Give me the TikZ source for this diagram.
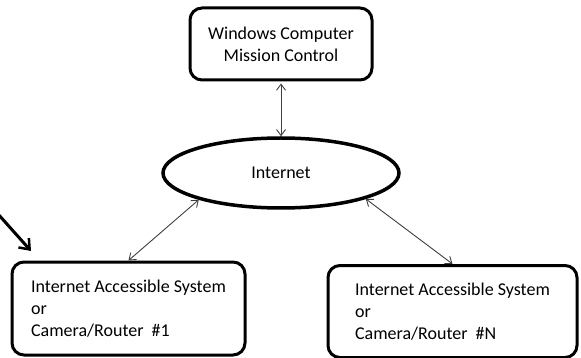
\documentclass[tikz,border=0pt]{standalone}
\usepackage{fontspec}
\setmainfont{Carlito}
\usetikzlibrary{arrows.meta,shapes.geometric}

\begin{document}
\begin{tikzpicture}[>={Straight Barb[length=6pt,width=9pt]},x=1pt,y=-1pt]

% ----------------------------
% Styles
% ----------------------------
\tikzset{
	sysbox/.style={draw=black,line width=3pt,rounded corners=12pt,align=left,
		font=\fontsize{18pt}{22pt}\selectfont},
	netell/.style={draw=black,ellipse,line width=3.5pt,inner sep=0pt,
		font=\fontsize{18pt}{22pt}\selectfont},
	link/.style={<->,line width=0.9pt,draw=black!75},
	pointer/.style={->,line width=3pt,>={Straight Barb[length=9pt,width=14pt,line width=2.5pt]}}
}

\useasboundingbox (0,0) rectangle (581,358);

% ============================================================
% Nodes
% ============================================================
\node[sysbox,align=center,minimum width=182pt,minimum height=72pt]
	(mc) at (281,44) {Windows Computer\\Mission Control};

\node[netell,minimum width=236pt,minimum height=70pt]
	(inet) at (281,173) {Internet};

\node[sysbox,minimum width=233pt,minimum height=93pt]
	(sys1) at (128.5,308.5) {Internet Accessible System\\or\\Camera/Router\ \ \#1};

\node[sysbox,minimum width=249pt,minimum height=92pt]
	(sysN) at (452.5,311.5) {Internet Accessible System\\or\\Camera/Router\ \ \#N};

% ============================================================
% Connectors
% ============================================================
\draw[link] ([yshift=-2pt]mc.south) -- (inet.north);
\draw[link] (sys1.north) -- (inet.198);
\draw[link] (inet.343) -- (sysN.north);

% free pointer at the first system
\coordinate (ptrA) at (-2,214);
\coordinate (ptrB) at (31,251);
\draw[pointer] (ptrA) -- (ptrB);
\end{tikzpicture}
\end{document}
